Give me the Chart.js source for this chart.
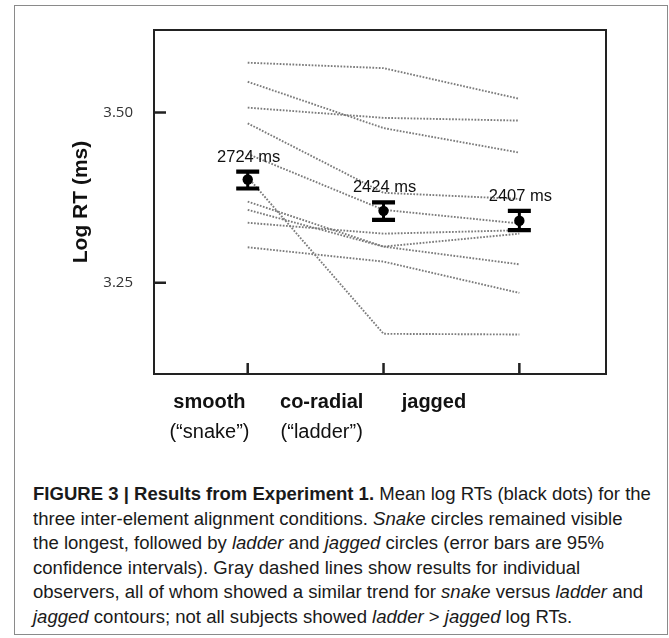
<!DOCTYPE html>
<html>
<head>
<meta charset="utf-8">
<title>Figure 3 - Log RT by alignment condition</title>
<script src="https://cdn.jsdelivr.net/npm/chart.js@4.4.1/dist/chart.umd.min.js"></script>
<style>
  html, body { margin: 0; padding: 0; background: #fff; }
  body { width: 669px; height: 638px; position: relative; overflow: hidden; }
  #frame {
    position: absolute; left: 14px; top: 5px; width: 652px; height: 628px;
    border: 1px solid #8a8a8a;
  }
  #chart { position: absolute; left: 0; top: 0; }
  #caption {
    position: absolute; left: 33px; top: 482px;
    font-family: "Liberation Sans", Arial, sans-serif;
    font-size: 18px; line-height: 24.6px; color: #1a1a1a;
  }
  #caption div { white-space: nowrap; transform-origin: 0 50%; }
</style>
</head>
<body>
<div id="frame"></div>
<canvas id="chart" width="669" height="460"></canvas>
<div id="caption">
  <div><b>FIGURE 3 | Results from Experiment 1.</b> Mean log RTs (black dots) for the</div>
  <div>three inter-element alignment conditions. <i>Snake</i> circles remained visible</div>
  <div>the longest, followed by <i>ladder</i> and <i>jagged</i> circles (error bars are 95%</div>
  <div>confidence intervals). Gray dashed lines show results for individual</div>
  <div>observers, all of whom showed a similar trend for <i>snake</i> versus <i>ladder</i> and</div>
  <div><i>jagged</i> contours; not all subjects showed <i>ladder</i> &gt; <i>jagged</i> log RTs.</div>
</div>
<script>
"use strict";

// conditions on the x axis
const conditions = ["smooth", "co-radial", "jagged"];
const conditionNotes = ["(\u201csnake\u201d)", "(\u201cladder\u201d)", ""];

// individual observers: log RT for smooth, co-radial, jagged
const observerLogRT = [
  [3.573, 3.565, 3.520],
  [3.545, 3.477, 3.441],
  [3.507, 3.492, 3.488],
  [3.484, 3.382, 3.373],
  [3.439, 3.357, 3.337],
  [3.405, 3.175, 3.174],
  [3.369, 3.303, 3.322],
  [3.357, 3.303, 3.277],
  [3.338, 3.322, 3.327],
  [3.302, 3.281, 3.235],
];

// group means and 95% confidence intervals
const meanLogRT = [3.4015, 3.3555, 3.3409];
const ciLow = [3.3883, 3.3423, 3.3273];
const ciHigh = [3.4131, 3.3679, 3.3555];
const meanLabels = ["2724 ms", "2424 ms", "2407 ms"];

const yTicks = [3.25, 3.5];

const observerSets = observerLogRT.map(function (vals) {
  return {
    data: vals.map((v, i) => ({ x: i, y: v })),
    showLine: true,
    borderColor: "#7c7c7c",
    borderWidth: 1.9,
    borderDash: [1.7, 1.5],
    pointRadius: 0,
    fill: false,
  };
});

const meanSet = {
  data: meanLogRT.map((v, i) => ({ x: i, y: v })),
  showLine: false,
  pointRadius: 5.2,
  backgroundColor: "#000",
  borderColor: "#000",
  borderWidth: 0,
};

const figureMarks = {
  id: "figureMarks",
  afterDatasetsDraw(chart) {
    const { ctx, chartArea: a } = chart;
    const x = chart.scales.x;
    const y = chart.scales.y;
    ctx.save();

    // error bars + mean labels
    ctx.strokeStyle = "#000";
    for (let i = 0; i < conditions.length; i++) {
      const px = x.getPixelForValue(i);
      const top = y.getPixelForValue(ciHigh[i]);
      const bot = y.getPixelForValue(ciLow[i]);
      ctx.lineWidth = 3;
      ctx.beginPath();
      ctx.moveTo(px, top);
      ctx.lineTo(px, bot);
      ctx.stroke();
      ctx.lineWidth = 4.2;
      ctx.beginPath();
      ctx.moveTo(px - 11.5, top);
      ctx.lineTo(px + 11.5, top);
      ctx.moveTo(px - 11.5, bot);
      ctx.lineTo(px + 11.5, bot);
      ctx.stroke();

      ctx.font = "16.5px 'Liberation Sans', Arial, sans-serif";
      ctx.fillStyle = "#111";
      ctx.textAlign = "center";
      ctx.textBaseline = "middle";
      ctx.fillText(meanLabels[i], px + 1, top - 14.5);
    }

    // plot box
    ctx.lineWidth = 2;
    ctx.strokeStyle = "#222";
    ctx.strokeRect(a.left, a.top, a.right - a.left, a.bottom - a.top);

    // inward tick marks
    ctx.lineWidth = 2.5;
    ctx.beginPath();
    yTicks.forEach(function (t) {
      const py = y.getPixelForValue(t);
      ctx.moveTo(a.left, py);
      ctx.lineTo(a.left + 12, py);
    });
    conditions.forEach(function (c, i) {
      const px = x.getPixelForValue(i);
      ctx.moveTo(px, a.bottom);
      ctx.lineTo(px, a.bottom - 11);
    });
    ctx.stroke();
    ctx.restore();
  },
};

const labelTicks = function (scale) {
  scale.ticks = conditions.map((c, i) => ({ value: i }));
};

new Chart(document.getElementById("chart"), {
  type: "scatter",
  data: { datasets: [meanSet].concat(observerSets) },
  options: {
    responsive: false,
    animation: false,
    layout: { padding: { left: 0, top: 28, right: 63, bottom: 16 } },
    plugins: { legend: { display: false }, tooltip: { enabled: false } },
    scales: {
      x: { type: "linear", display: false, min: -0.69, max: 2.638 },
      y: {
        type: "linear",
        min: 3.116,
        max: 3.621,
        afterBuildTicks: function (scale) {
          scale.ticks = yTicks.map((v) => ({ value: v }));
        },
        afterFit: function (scale) {
          scale.width = 154;
        },
        grid: { display: false, drawTicks: false },
        border: { display: false },
        ticks: {
          padding: 21,
          color: "#333",
          font: { family: "'Open Sans', sans-serif", size: 15 },
          callback: (v) => v.toFixed(2),
        },
        title: {
          display: true,
          text: "Log RT (ms)",
          color: "#111",
          padding: { top: 69, bottom: 0 },
          font: { family: "'Liberation Sans', Arial, sans-serif", size: 21, weight: "bold" },
        },
      },
      xName: {
        type: "linear",
        position: "bottom",
        weight: 0,
        min: -0.494,
        max: 3.533,
        afterBuildTicks: labelTicks,
        afterFit: function (scale) {
          scale.height = 40;
        },
        grid: { display: false, drawTicks: false },
        border: { display: false },
        ticks: {
          padding: 16,
          maxRotation: 0,
          autoSkip: false,
          color: "#111",
          font: { family: "'Liberation Sans', Arial, sans-serif", size: 20, weight: "bold" },
          callback: (v) => conditions[v],
        },
      },
      xNote: {
        type: "linear",
        position: "bottom",
        weight: 1,
        min: -0.494,
        max: 3.533,
        afterBuildTicks: labelTicks,
        afterFit: function (scale) {
          scale.height = 30;
        },
        grid: { display: false, drawTicks: false },
        border: { display: false },
        ticks: {
          padding: 6,
          maxRotation: 0,
          autoSkip: false,
          color: "#111",
          font: { family: "'Liberation Sans', Arial, sans-serif", size: 20 },
          callback: (v) => conditionNotes[v],
        },
      },
    },
  },
  plugins: [figureMarks],
});

// squeeze caption to the reference's condensed width
const capLines = document.querySelectorAll("#caption div");
const squeeze = 618 / capLines[0].scrollWidth;
capLines.forEach(function (el) {
  el.style.transform = "scaleX(" + squeeze.toFixed(3) + ")";
});
</script>
</body>
</html>
